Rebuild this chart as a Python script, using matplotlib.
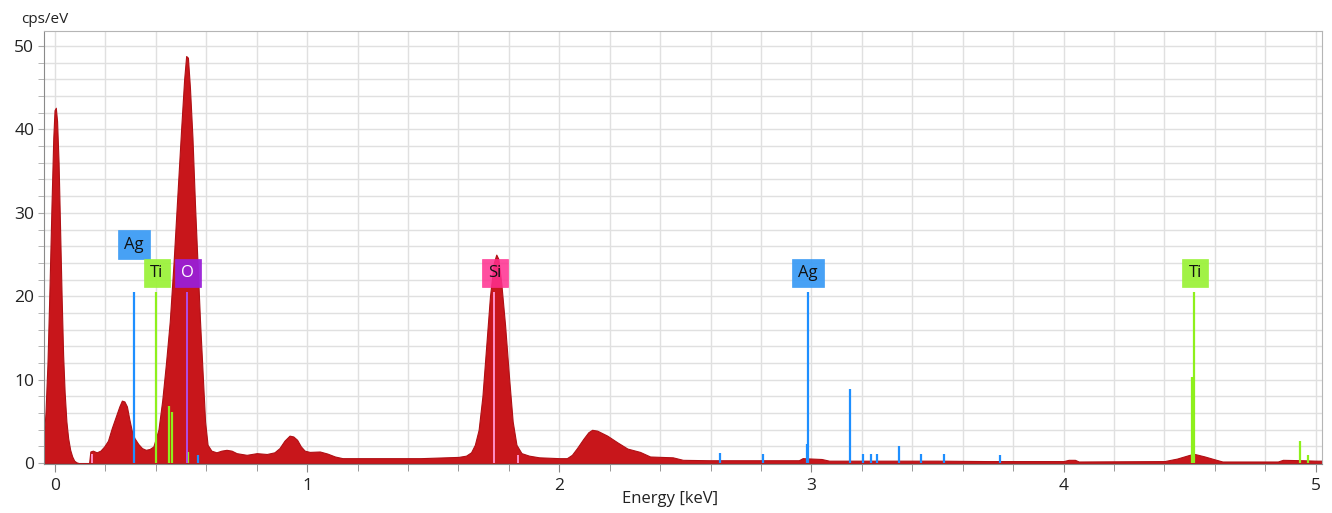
import matplotlib
matplotlib.use("Agg")
import matplotlib.pyplot as plt
from matplotlib.ticker import MultipleLocator

plt.rcParams['font.family'] = ['Open Sans', 'DejaVu Sans']

# Spectrum (energy in keV, counts in cps/eV)
energy = [-0.044, -0.038, -0.030, -0.022, -0.014, -0.007, -0.002, 0.003, 0.008, 0.014,
          0.020, 0.026, 0.032, 0.038, 0.045, 0.052, 0.060, 0.068, 0.076, 0.085,
          0.095, 0.135, 0.140, 0.150, 0.165, 0.180, 0.195, 0.210, 0.225, 0.240,
          0.255, 0.265, 0.275, 0.285, 0.295, 0.305, 0.315, 0.330, 0.345, 0.360,
          0.375, 0.390, 0.400, 0.410, 0.425, 0.440, 0.455, 0.470, 0.485, 0.500,
          0.512, 0.520, 0.527, 0.535, 0.545, 0.555, 0.565, 0.575, 0.585, 0.595,
          0.605, 0.620, 0.640, 0.660, 0.680, 0.700, 0.720, 0.760, 0.800, 0.840,
          0.870, 0.890, 0.910, 0.930, 0.945, 0.960, 0.975, 0.990, 1.010, 1.050,
          1.080, 1.110, 1.140, 1.300, 1.450, 1.600, 1.630, 1.650, 1.665, 1.680,
          1.695, 1.710, 1.725, 1.740, 1.750, 1.758, 1.770, 1.785, 1.800, 1.815,
          1.830, 1.850, 1.880, 1.920, 2.000, 2.030, 2.050, 2.070, 2.095, 2.115,
          2.130, 2.150, 2.170, 2.190, 2.230, 2.270, 2.320, 2.360, 2.450, 2.490,
          2.600, 2.950, 2.965, 3.040, 3.070, 3.500, 3.700, 4.000, 4.020, 4.045,
          4.060, 4.400, 4.450, 4.500, 4.520, 4.560, 4.600, 4.630, 4.850, 4.870,
          4.950, 5.000, 5.025]
counts = [3.5, 6, 12, 21, 31, 39, 42.3, 42.6, 41, 36,
          28, 20, 13, 8.5, 5, 3, 1.6, 0.8, 0.3, 0.1,
          0.0, 0.0, 1.4, 1.5, 1.3, 1.5, 2.0, 2.7, 4.2, 5.5,
          6.8, 7.5, 7.4, 6.8, 5.2, 3.8, 3.0, 2.3, 1.8, 1.6,
          1.7, 2.0, 3.0, 4.0, 7.5, 12, 17, 24, 32, 40,
          46, 48.8, 48.6, 45, 39, 31, 24, 17, 11, 5,
          2.2, 1.5, 1.3, 1.5, 1.6, 1.5, 1.2, 1.0, 1.2, 1.1,
          1.3, 1.8, 2.7, 3.3, 3.2, 2.8, 2.0, 1.5, 1.35, 1.4,
          1.15, 0.8, 0.6, 0.6, 0.6, 0.75, 0.9, 1.3, 2.2, 4,
          8, 14, 20, 24, 25, 24.5, 21.5, 16.5, 10.5, 5,
          2.2, 1.2, 0.9, 0.7, 0.6, 0.6, 1.0, 1.8, 2.9, 3.7,
          4.0, 3.9, 3.6, 3.3, 2.5, 1.75, 1.35, 0.8, 0.7, 0.4,
          0.35, 0.35, 0.6, 0.5, 0.3, 0.3, 0.25, 0.25, 0.4, 0.4,
          0.2, 0.25, 0.55, 1.0, 1.1, 0.8, 0.45, 0.2, 0.2, 0.4,
          0.35, 0.3, 0.3]

# Element marker lines
ag_lines = [0.313, 0.566, 2.636, 2.808, 2.987, 2.981, 3.153, 3.206, 3.237, 3.260, 3.349, 3.435, 3.527, 3.746]
ag_heights = [20.5, 1.0, 1.2, 1.1, 20.5, 2.3, 8.9, 1.1, 1.1, 1.1, 2.1, 1.1, 1.1, 1.0]
ti_lines = [0.400, 0.452, 0.462, 0.529, 4.517, 4.510, 4.938, 4.968]
ti_heights = [20.5, 6.9, 6.1, 1.3, 20.5, 10.3, 2.7, 1.0]
o_lines = [0.523]
o_heights = [20.5]
si_lines = [0.146, 1.742, 1.836]
si_heights = [1.1, 20.5, 1.0]

# Labels: (text, energy, y)
labels = [("Ag", 0.313, 26.2), ("Ti", 0.404, 22.8), ("O", 0.527, 22.8),
          ("Si", 1.745, 22.8), ("Ag", 2.987, 22.8), ("Ti", 4.522, 22.8)]

fig = plt.figure(figsize=(13.32, 5.13), dpi=100)
ax = fig.add_axes([0.033, 0.0955, 0.9595, 0.8441])

ax.fill_between(energy, counts, 0, color='#c8161b', linewidth=0.8, edgecolor='#b01015', zorder=2)

ax.vlines(ag_lines, 0, ag_heights, color='#1e8fff', lw=1.6, zorder=3)
ax.vlines(ti_lines, 0, ti_heights, color='#8ef01c', lw=1.6, zorder=3)
ax.vlines(o_lines, 0, o_heights, color='#b04ee8', lw=1.4, zorder=3)
ax.vlines(si_lines, 0, si_heights, color='#ff8fc8', lw=1.4, zorder=3)

styles = {
    "Ag": dict(fc='#3d9cf5', tc='#111111', alpha=0.95),
    "Ti": dict(fc='#9cf23c', tc='#111111', alpha=0.95),
    "O": dict(fc='#9a1fd6', tc='white', alpha=0.95),
    "Si": dict(fc='#ff2f8f', tc='#111111', alpha=0.85),
}
for txt, xe, ye in labels:
    st = styles[txt]
    ax.text(xe, ye, txt, ha='center', va='center', fontsize=12, color=st['tc'], zorder=5,
            bbox=dict(boxstyle='square,pad=0.38', fc=st['fc'], ec=st['fc'], lw=0.5, alpha=st['alpha']))

ax.set_xlim(-0.044, 5.025)
ax.set_ylim(-0.1, 51.8)

ax.xaxis.set_major_locator(MultipleLocator(1))
ax.xaxis.set_minor_locator(MultipleLocator(0.2))
ax.yaxis.set_major_locator(MultipleLocator(10))
ax.yaxis.set_minor_locator(MultipleLocator(2))

ax.grid(True, which='both', color='#e0e0e0', lw=1.0, zorder=0)
ax.set_axisbelow(True)

ax.tick_params(axis='x', which='major', length=6, color='#888888', labelsize=12.5, pad=4, labelcolor='#222222')
ax.tick_params(axis='x', which='minor', length=5, color='#888888')
ax.tick_params(axis='y', which='major', length=4, color='#aaaaaa', labelsize=12.5, pad=3, labelcolor='#222222')
ax.tick_params(axis='y', which='minor', length=4, color='#aaaaaa')

for side in ['left', 'bottom']:
    ax.spines[side].set_color('#8a8a8a')
for side in ['top', 'right']:
    ax.spines[side].set_color('#b5b5b5')

fig.text(0.503, 0.028, "Energy [keV]", ha='center', va='center', fontsize=12, color='#222222')
fig.text(0.016, 0.962, "cps/eV", ha='left', va='center', fontsize=11, color='#222222')

fig.savefig("out.png", dpi=100)
